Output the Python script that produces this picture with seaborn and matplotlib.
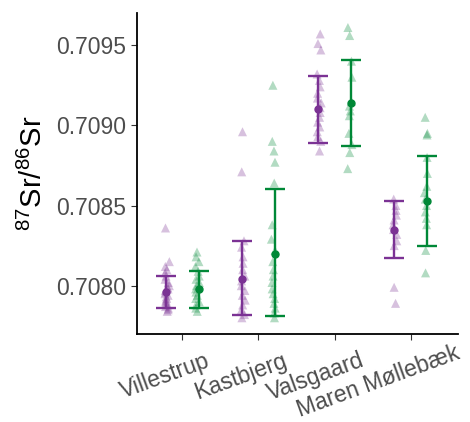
import numpy as np
import pandas as pd
import matplotlib
matplotlib.use("Agg")
import matplotlib.pyplot as plt
import matplotlib.transforms as mtrans
import seaborn as sns

# data
sites = ["Villestrup", "Kastbjerg", "Valsgaard", "Maren Møllebæk"]
groups = ["A", "B"]
colors = ["#7B3294", "#008837"]

vill_a = [0.70836, 0.70815, 0.70812, 0.70810, 0.70808, 0.70806, 0.70804, 0.70802,
          0.70800, 0.70799, 0.70798, 0.70797, 0.70796, 0.70795, 0.70794, 0.70793,
          0.70792, 0.70791, 0.70790, 0.70789, 0.70788, 0.70787, 0.70786, 0.70785, 0.70784]
vill_b = [0.70821, 0.70818, 0.70815, 0.70812, 0.70809, 0.70806, 0.70804, 0.70802,
          0.70800, 0.70798, 0.70796, 0.70794, 0.70792, 0.70790, 0.70788, 0.70786, 0.70784]
kast_a = [0.70896, 0.70871, 0.70828, 0.70824, 0.70818, 0.70814, 0.70810, 0.70806,
          0.70803, 0.70800, 0.70797, 0.70794, 0.70791, 0.70788, 0.70785, 0.70782, 0.70780]
kast_b = [0.70925, 0.70890, 0.70884, 0.70877, 0.70864, 0.70838, 0.70829, 0.70822,
          0.70815, 0.70810, 0.70806, 0.70802, 0.70798, 0.70795, 0.70792, 0.70789,
          0.70786, 0.70783, 0.70780]
vals_a = [0.70957, 0.70951, 0.70947, 0.70932, 0.70928, 0.70924, 0.70920, 0.70917,
          0.70914, 0.70911, 0.70908, 0.70905, 0.70902, 0.70899, 0.70896, 0.70893,
          0.70890, 0.70884]
vals_b = [0.70961, 0.70956, 0.70940, 0.70930, 0.70915, 0.70912, 0.70909, 0.70906,
          0.70895, 0.70888, 0.70883, 0.70873]
mare_a = [0.70854, 0.70850, 0.70847, 0.70844, 0.70841, 0.70838, 0.70835, 0.70832,
          0.70828, 0.70825, 0.70799, 0.70789]
mare_b = [0.70905, 0.70895, 0.70894, 0.70880, 0.70870, 0.70862, 0.70858, 0.70854,
          0.70850, 0.70846, 0.70842, 0.70838, 0.70822, 0.70808]

# mean and error bar limits per site, per group
mean_a = [0.70796, 0.70804, 0.70910, 0.70835]
low_a = [0.70786, 0.70782, 0.70889, 0.70817]
high_a = [0.70806, 0.70828, 0.70931, 0.70853]
mean_b = [0.70798, 0.70820, 0.70914, 0.70853]
low_b = [0.70786, 0.70781, 0.70887, 0.70825]
high_b = [0.70809, 0.70860, 0.70941, 0.70881]

rows = []
for site, a, b in zip(sites, [vill_a, kast_a, vals_a, mare_a], [vill_b, kast_b, vals_b, mare_b]):
    rows += [(site, "A", v) for v in a]
    rows += [(site, "B", v) for v in b]
df = pd.DataFrame(rows, columns=["site", "group", "sr"])

sns.set_style("ticks")
plt.rcParams['font.family'] = ['Liberation Sans', 'DejaVu Sans']
plt.rcParams['mathtext.fontset'] = 'custom'
plt.rcParams['mathtext.rm'] = 'Liberation Sans'

fig = plt.figure(figsize=(4.7, 4.22), dpi=100)
ax = fig.add_axes([0.291, 0.209, 0.683, 0.760])

sns.stripplot(data=df, x="site", y="sr", hue="group", order=sites, hue_order=groups,
              palette=colors, dodge=True, jitter=0.06, marker="^", size=6.5,
              alpha=0.3, linewidth=0, ax=ax, legend=False)

x = np.arange(len(sites))
for off, m, lo, hi, c in [(-0.22, mean_a, low_a, high_a, colors[0]),
                          (0.22, mean_b, low_b, high_b, colors[1])]:
    m = np.array(m)
    yerr = [m - np.array(lo), np.array(hi) - m]
    ax.errorbar(x + off, m, yerr=yerr, fmt="o", color=c, markersize=5,
                elinewidth=1.7, capsize=7, capthick=1.7, zorder=5)

ax.set_xlim(-0.6, 3.62)
ax.set_ylim(0.70770, 0.70970)
ax.set_yticks([0.7080, 0.7085, 0.7090, 0.7095])
ax.set_yticklabels(["0.7080", "0.7085", "0.7090", "0.7095"])
ax.set_xlabel("")
ax.set_ylabel(r"$^{87}$Sr/$^{86}$Sr", fontsize=21, color="black", labelpad=6)
ax.tick_params(axis="both", labelsize=16.5, labelcolor="#4D4D4D", color="#333333", length=4)
for s in ["top", "right"]:
    ax.spines[s].set_visible(False)
for s in ["left", "bottom"]:
    ax.spines[s].set_linewidth(1.3)
    ax.spines[s].set_color("black")

# rotated labels, anchored at about 70% of their length (like ggplot hjust)
fig.canvas.draw()
renderer = fig.canvas.get_renderer()
ang = np.deg2rad(20)
for lab in ax.get_xticklabels():
    lab.set_rotation(0)
    w = lab.get_window_extent(renderer).width
    lab.set_rotation(20)
    lab.set_ha("right")
    lab.set_rotation_mode("anchor")
    d = 0.3 * w
    lab.set_transform(lab.get_transform() + mtrans.Affine2D().translate(d * np.cos(ang) - 4, d * np.sin(ang) - 15))

fig.savefig("out.png", dpi=100)
